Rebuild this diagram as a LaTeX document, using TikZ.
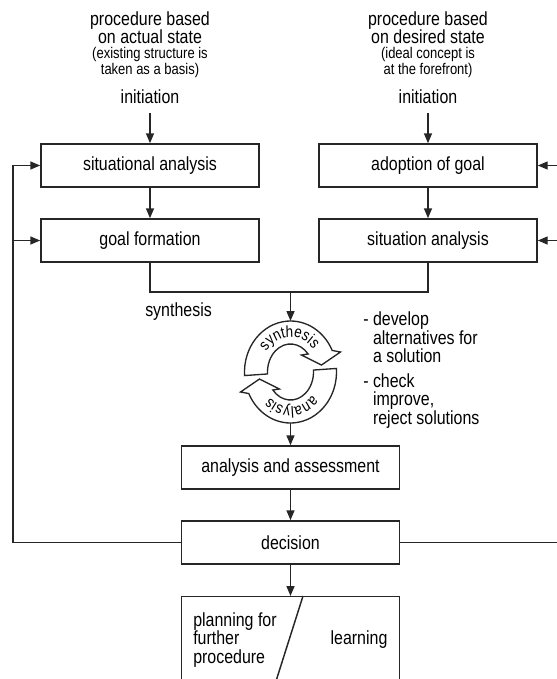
\documentclass[tikz,border=0pt]{standalone}
\usepackage{fontspec}
\setmainfont{Liberation Sans}[FakeStretch=0.84]
\usetikzlibrary{arrows.meta,decorations.text}

% font sizes used in the chart
\newcommand\boxfont{\fontsize{14.25pt}{13.5pt}\selectfont}
\newcommand\subfont{\fontsize{11.6pt}{12pt}\selectfont}
\newcommand\listfont{\fontsize{14.25pt}{13.9pt}\selectfont}
\newcommand\cycfont{\fontsize{12pt}{12pt}\selectfont}

\begin{document}
\begin{tikzpicture}[x=0.75pt,y=0.75pt,
  line/.style={draw=black!85, line width=1.1pt},
  arr/.style={line, -{Triangle[length=7.5pt,width=6pt]}},
  box/.style={draw=black!85, line width=1.1pt, fill=white,
    minimum width=163.5pt, minimum height=32.25pt, inner sep=0pt, font=\boxfont},
  txt/.style={inner sep=0pt, font=\boxfont, align=center},
  subtxt/.style={inner sep=0pt, font=\subfont, align=center},
  listtxt/.style={inner sep=0pt, font=\listfont, align=left, anchor=west},
  cycarrow/.style={draw=black!85, line width=1pt, fill=white, line join=miter}
]
\useasboundingbox (0,0) rectangle (557,-679);
\clip (0,0) rectangle (557,-679);

% ---- headings ----
\node[txt] (tl) at (150,-28) {procedure based\\on actual state};
\node[subtxt] (tls) at (150,-62) {(existing structure is\\taken as a basis)};
\node[txt] (il) at (150,-97) {initiation};
\node[txt] (tr) at (428,-28) {procedure based\\on desired state};
\node[subtxt] (trs) at (428,-62) {(ideal concept is\\at the forefront)};
\node[txt] (ir) at (428,-97) {initiation};
\coordinate (il-out) at (150,-113);
\coordinate (ir-out) at (428,-113);

% ---- boxes ----
\node[box] (sa) at (150,-165.5) {situational analysis};
\node[box] (gf) at (150,-240.5) {goal formation};
\node[box] (ag) at (428,-165.5) {adoption of goal};
\node[box] (sn) at (428,-240.5) {situation analysis};
\node[box] (aa) at (290.5,-467.5) {analysis and assessment};
\node[box] (dc) at (290.5,-542.5) {decision};
\node[box, minimum height=75pt, anchor=north, fill=none] (pl) at (290.5,-596) {};

% split of the last box
\coordinate (sl1) at (303,-596);
\coordinate (sl2) at (270,-700);
\draw[line] (sl1) -- (sl2);
\node[listtxt] (plt) at (193,-640) {planning for\\further\\procedure};
\node[txt] (lrn) at (359,-640) {learning};

% ---- flow ----
\draw[arr] (il-out) -- (sa.north);
\draw[arr] (ir-out) -- (ag.north);
\draw[arr] (sa) -- (gf);
\draw[arr] (ag) -- (sn);

\coordinate (mg) at (290.5,-292);
\draw[line] (gf.south) |- (mg) -| (sn.south);
\node[txt, anchor=west] (syl) at (145,-312) {synthesis};

\coordinate (cyc-top) at (290.5,-321);
\coordinate (cyc-bot) at (290.5,-422);
\draw[arr] (mg) -- (cyc-top);
\draw[arr] (cyc-bot) -- (aa.north);
\draw[arr] (aa) -- (dc);
\draw[arr] (dc) -- (pl.north);

% feedback on the left
\coordinate (lb) at (13,-542.5);
\coordinate (lt) at (13,-165.5);
\coordinate (lm) at (13,-240.5);
\draw[arr] (dc.west) -- (lb) -- (lt) -- (sa.west);
\draw[arr] (lm) -- (gf.west);

% feedback on the right
\coordinate (rb) at (563,-542.5);
\coordinate (rt) at (563,-165.5);
\coordinate (rm) at (563,-240.5);
\draw[arr] (dc.east) -- (rb) -- (rt) -- (ag.east);
\draw[arr] (rm) -- (sn.east);

% ---- synthesis / analysis cycle ----
\begin{scope}[shift={(290.5,-372)}]
  \path[cycarrow] (184:46 and 51) arc[start angle=184, end angle=25, x radius=46, y radius=51]
    -- (50,20) -- (31,7) -- (11,17) -- (40:23 and 28)
    arc[start angle=40, end angle=184, x radius=23, y radius=28] -- cycle;
  \path[decorate, decoration={text along path, text={|\cycfont|synthesis}, text align=center}]
    (172:30 and 35) arc[start angle=172, end angle=12, x radius=30, y radius=35];
\end{scope}
\begin{scope}[shift={(290.5,-372)}, rotate=180]
  \path[cycarrow] (184:46 and 51) arc[start angle=184, end angle=25, x radius=46, y radius=51]
    -- (50,20) -- (31,7) -- (11,17) -- (40:23 and 28)
    arc[start angle=40, end angle=184, x radius=23, y radius=28] -- cycle;
  \path[decorate, decoration={text along path, text={|\cycfont|analysis}, text align=center}]
    (172:30 and 35) arc[start angle=172, end angle=12, x radius=30, y radius=35];
\end{scope}

% ---- notes beside the cycle ----
\node[listtxt] (n1) at (363,-337.5) {- develop\\\phantom{- }alternatives for\\\phantom{- }a solution};
\node[listtxt] (n2) at (363,-401) {- check\\\phantom{- }improve,\\\phantom{- }reject solutions};
\end{tikzpicture}
\end{document}
